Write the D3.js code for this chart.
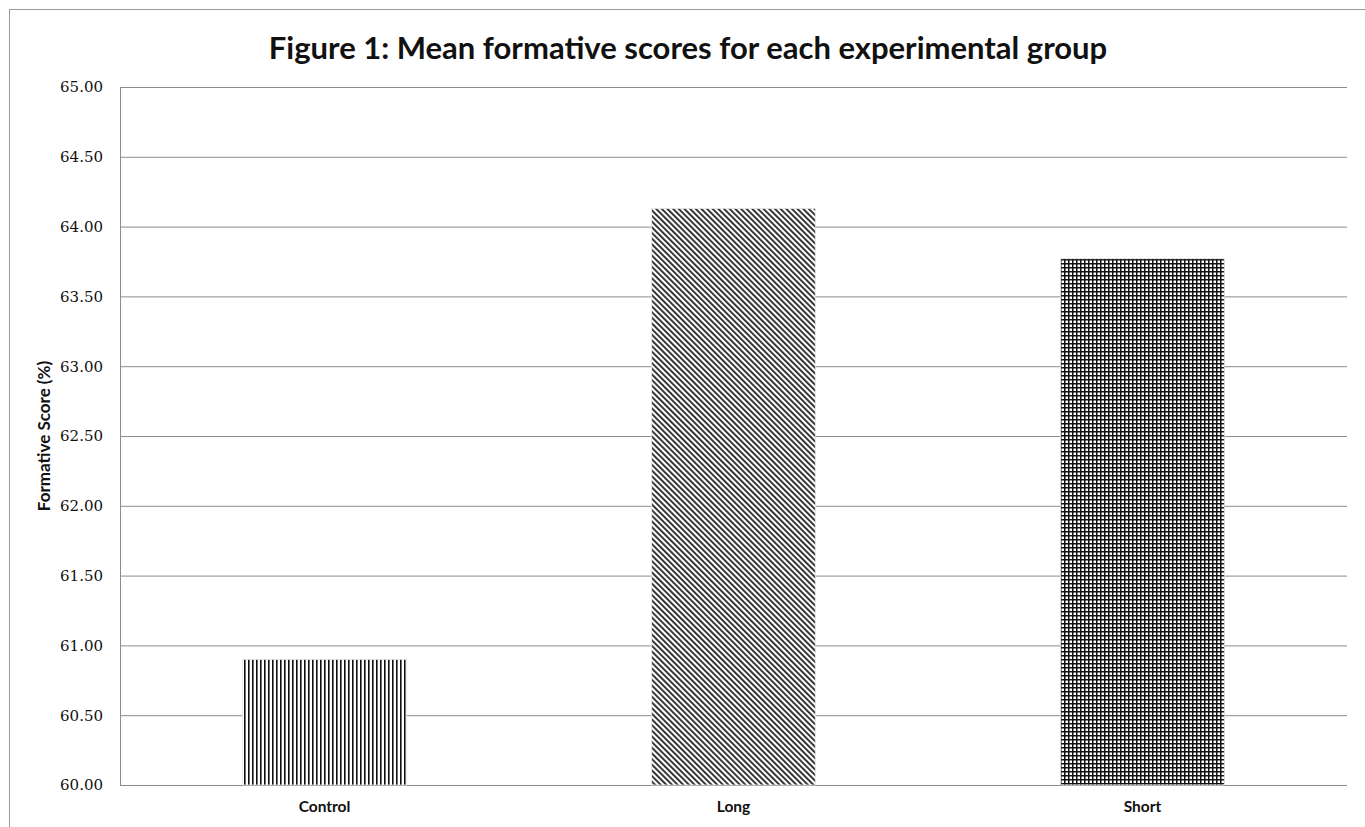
<!DOCTYPE html>
<html>
<head>
<meta charset="utf-8">
<script src="https://cdn.jsdelivr.net/npm/d3@7"></script>
<style>
  body { margin: 0; background: #fff; }
  .grid line { stroke: #8c8c8c; stroke-width: 1; }
  .grid path { display: none; }
  .axis-y path, .axis-y line { display: none; }
  .axis-y text { font-family: "DejaVu Serif", "Liberation Serif", serif; font-size: 15px; fill: #111; }
  .axis-x path, .axis-x line { display: none; }
  .axis-x text { font-family: Lato, sans-serif; font-weight: bold; font-size: 15.5px; fill: #111; }
</style>
</head>
<body>
<div id="container1"></div>
<script>
// data
const groups = ["Control", "Long", "Short"];
const scores = [60.90, 64.13, 63.77];
const patterns = ["vert", "diag", "grid"];
const yTicks = [60, 60.5, 61, 61.5, 62, 62.5, 63, 63.5, 64, 64.5, 65];

const width = 1365;
const height = 827;
const margin = { top: 87, right: 18, bottom: 42, left: 120 };
const innerWidth = 1347 - margin.left;
const innerHeight = 785 - margin.top;

const svg = d3.select("#container1")
  .append("svg")
  .attr("width", width)
  .attr("height", height);

// patterns
const defs = svg.append("defs");
const pv = defs.append("pattern").attr("id", "vert")
  .attr("patternUnits", "userSpaceOnUse").attr("width", 4).attr("height", 4);
pv.append("rect").attr("width", 4).attr("height", 4).attr("fill", "#fff");
pv.append("rect").attr("x", 0).attr("width", 1.6).attr("height", 4).attr("fill", "#111");

const pd = defs.append("pattern").attr("id", "diag")
  .attr("patternUnits", "userSpaceOnUse").attr("width", 4).attr("height", 4)
  .attr("patternTransform", "rotate(-45)");
pd.append("rect").attr("width", 4).attr("height", 4).attr("fill", "#fff");
pd.append("rect").attr("x", 0).attr("width", 1.8).attr("height", 4).attr("fill", "#222");

const pg = defs.append("pattern").attr("id", "grid")
  .attr("patternUnits", "userSpaceOnUse").attr("width", 4).attr("height", 4);
pg.append("rect").attr("width", 4).attr("height", 4).attr("fill", "#fff");
pg.append("rect").attr("x", 0).attr("width", 1.5).attr("height", 4).attr("fill", "#111");
pg.append("rect").attr("y", 0).attr("width", 4).attr("height", 1.5).attr("fill", "#111");

// outer frame
svg.append("rect")
  .attr("x", 9.5).attr("y", 9.5)
  .attr("width", 1400).attr("height", 900)
  .attr("fill", "none").attr("stroke", "#9a9a9a");

// title
svg.append("text")
  .attr("x", 688).attr("y", 59)
  .attr("text-anchor", "middle")
  .style("font-family", "Lato, sans-serif")
  .style("font-weight", "bold")
  .style("font-size", "31px")
  .style("fill", "#111")
  .text("Figure 1: Mean formative scores for each experimental group");

const bounds = svg.append("g")
  .attr("transform", `translate(${margin.left}, ${margin.top})`);

// scales
const x = d3.scaleBand()
  .domain(groups)
  .range([0, innerWidth])
  .paddingInner(0.6)
  .paddingOuter(0.3);

const y = d3.scaleLinear()
  .domain([60, 65])
  .range([innerHeight, 0]);

// gridlines
bounds.append("g")
  .attr("class", "grid")
  .call(d3.axisLeft(y).tickValues(yTicks).tickSize(-innerWidth).tickFormat(""));

// y axis line
bounds.append("line")
  .attr("x1", 0.5).attr("x2", 0.5)
  .attr("y1", 0).attr("y2", innerHeight)
  .attr("stroke", "#8c8c8c");

bounds.append("g")
  .attr("class", "axis-y")
  .attr("transform", "translate(-14, 0)")
  .call(d3.axisLeft(y).tickValues(yTicks).tickSize(0).tickFormat(d3.format(".2f")));

// bars
bounds.selectAll("rect.bar")
  .data(groups)
  .join("rect")
  .attr("class", "bar")
  .attr("x", d => x(d))
  .attr("width", x.bandwidth())
  .attr("y", (d, i) => y(scores[i]))
  .attr("height", (d, i) => innerHeight - y(scores[i]))
  .attr("fill", (d, i) => `url(#${patterns[i]})`)
  .attr("stroke", "#e6e6e6")
  .attr("stroke-width", 0.8);

// x axis
bounds.append("g")
  .attr("class", "axis-x")
  .attr("transform", `translate(0, ${innerHeight})`)
  .call(d3.axisBottom(x).tickSize(0).tickPadding(16));

// y label
svg.append("text")
  .attr("transform", `translate(50, ${margin.top + innerHeight / 2}) rotate(-90)`)
  .attr("text-anchor", "middle")
  .style("font-family", "Lato, sans-serif")
  .style("font-weight", "bold")
  .style("font-size", "17px")
  .style("fill", "#111")
  .text("Formative Score (%)");
</script>
</body>
</html>
